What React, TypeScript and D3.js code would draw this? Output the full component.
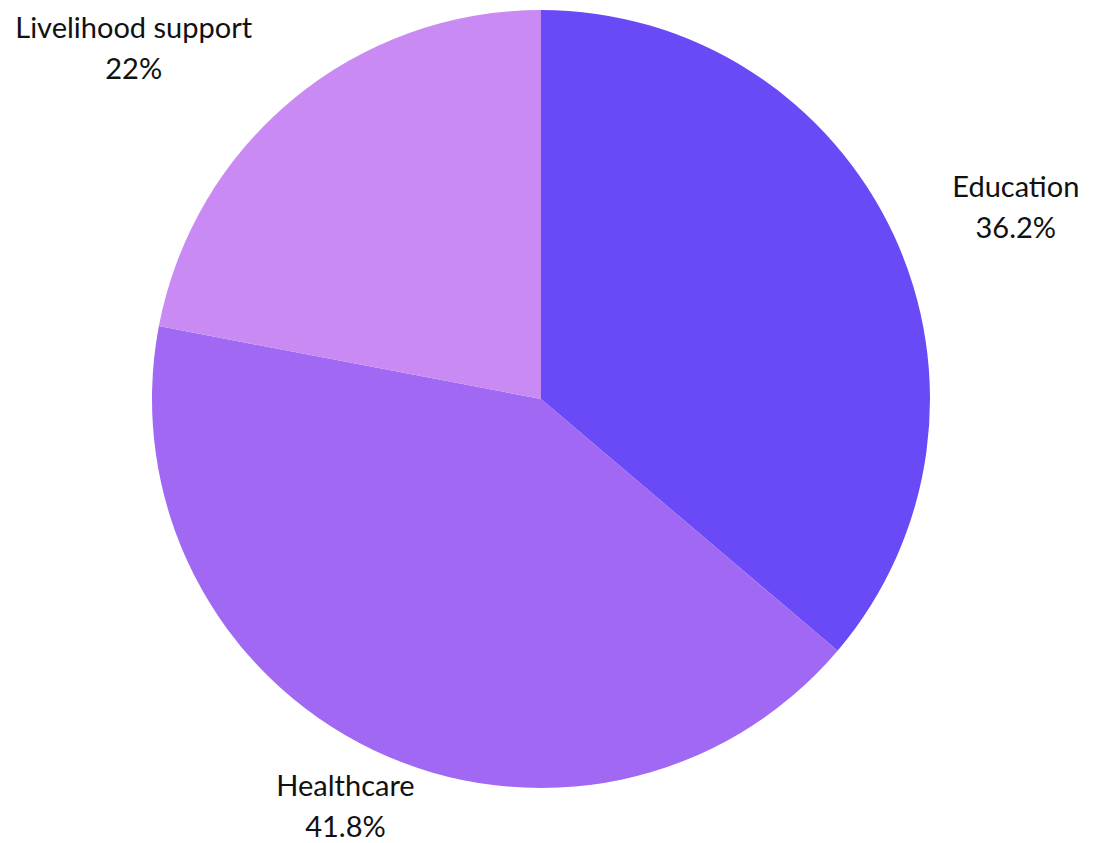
import React, { useMemo } from 'react';
import * as d3 from 'd3';

const categories = ['Education', 'Healthcare', 'Livelihood support'];
const shares = [36.2, 41.8, 22];
const shareLabels = ['36.2%', '41.8%', '22%'];
const sliceColors = ['#6a4af7', '#a068f3', '#c98af3'];

const WIDTH = 1093;
const HEIGHT = 843;
const FONT = '29px Lato, sans-serif';

function textWidth(s: string) {
  const ctx = document.createElement('canvas').getContext('2d');
  if (!ctx) return s.length * 13;
  ctx.font = FONT;
  return ctx.measureText(s).width;
}

export default function App() {
  const cx = 541;
  const cy = 399;
  const radius = 389;
  const labelRadius = radius * 1.165;
  const lineGap = 41;

  const arcs = useMemo(() => {
    const pie = d3.pie<number>().sort(null).value(d => d);
    return pie(shares);
  }, []);

  const arcGen = d3.arc<d3.PieArcDatum<number>>().innerRadius(0).outerRadius(radius);

  return (
    <div style={{ position: 'fixed', left: 0, top: 0, width: WIDTH, height: HEIGHT, background: '#fff' }}>
      <svg width={WIDTH} height={HEIGHT} style={{ display: 'block' }}>
        <g transform={`translate(${cx},${cy})`}>
          {arcs.map((a, i) => (
            <path key={categories[i]} d={arcGen(a) || ''} fill={sliceColors[i]} />
          ))}
          {arcs.map((a, i) => {
            const mid = (a.startAngle + a.endAngle) / 2;
            const dx = Math.sin(mid);
            const dy = -Math.cos(mid);
            const hw = Math.max(textWidth(categories[i]), textWidth(shareLabels[i])) / 2;
            // side labels hang off the anchor, bottom/top ones sit centred on it
            const shift = Math.abs(dx) > 0.5 ? Math.sign(dx) * hw : 0;
            const x = dx * labelRadius + shift;
            const y = dy * labelRadius;
            return (
              <text
                key={categories[i]}
                x={x}
                y={y}
                textAnchor="middle"
                style={{ font: FONT }}
                fill="#111"
              >
                <tspan x={x} dy={-lineGap / 2 + 9}>{categories[i]}</tspan>
                <tspan x={x} dy={lineGap}>{shareLabels[i]}</tspan>
              </text>
            );
          })}
        </g>
      </svg>
    </div>
  );
}
